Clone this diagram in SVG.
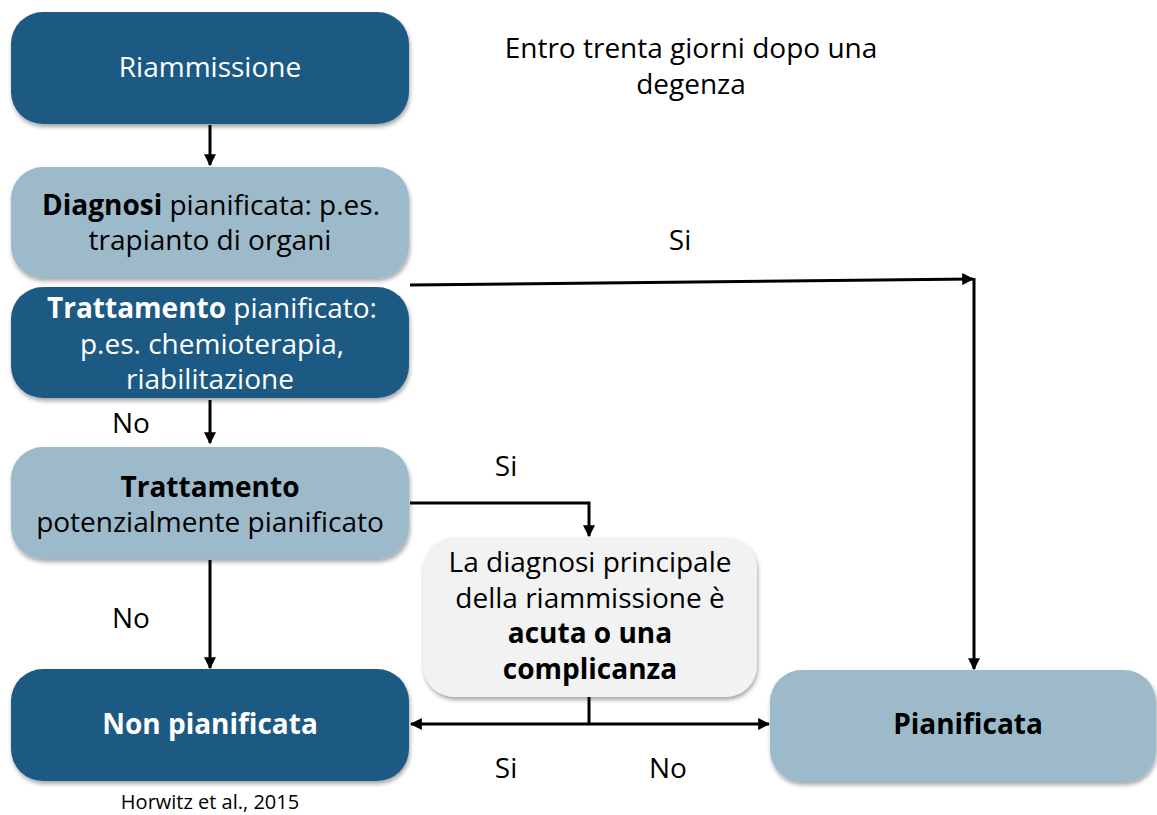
<svg xmlns="http://www.w3.org/2000/svg" width="1157" height="815" viewBox="0 0 1157 815">
<style>
text{font-family:"Open Sans","Noto Sans","DejaVu Sans",sans-serif;font-size:28px;text-anchor:middle}
.w{fill:#ffffff}
.k{fill:#000000}
.b{font-weight:bold}
.dark{fill:#1F5A84}
.light{fill:#9DBACB}
.grey{fill:#F2F2F2}
.ln{stroke:#000;stroke-width:3;fill:none}
</style>
<defs>
<filter id="sh" x="-10%" y="-10%" width="120%" height="130%">
<feDropShadow dx="1" dy="3" stdDeviation="2" flood-color="#000" flood-opacity="0.35"/>
</filter>
<marker id="ah" viewBox="0 0 10 10" refX="9" refY="5" markerWidth="4" markerHeight="4" orient="auto" markerUnits="strokeWidth">
<path d="M0,0 L10,5 L0,10 z" fill="#000"/>
</marker>
</defs>
<g id="n-riammissione">
<rect class="dark" x="11" y="12" width="398" height="112" rx="32" filter="url(#sh)"/>
<text class="w" x="210" y="77">Riammissione</text>
</g>
<g id="t-entro">
<text class="k" x="691" y="58">Entro trenta giorni dopo una</text>
<text class="k" x="691" y="94">degenza</text>
</g>
<g id="n-diagnosi">
<rect class="light" x="11" y="167" width="398" height="111" rx="32" filter="url(#sh)"/>
<text class="k" x="211" y="215"><tspan class="b">Diagnosi</tspan> pianificata: p.es.</text>
<text class="k" x="210" y="250">trapianto di organi</text>
</g>
<g id="n-trattamento-pianificato">
<rect class="dark" x="11" y="287" width="398" height="111" rx="32" filter="url(#sh)"/>
<text class="w" x="212" y="318"><tspan class="b">Trattamento</tspan> pianificato:</text>
<text class="w" x="212" y="354">p.es. chemioterapia,</text>
<text class="w" x="210" y="389">riabilitazione</text>
</g>
<g id="n-trattamento-potenziale">
<rect class="light" x="11" y="447" width="398" height="112" rx="32" filter="url(#sh)"/>
<text class="k b" x="210" y="497">Trattamento</text>
<text class="k" x="210" y="532">potenzialmente pianificato</text>
</g>
<g id="n-diagnosi-principale">
<rect class="grey" x="423" y="537" width="334" height="160" rx="32" filter="url(#sh)"/>
<text class="k" x="590" y="572">La diagnosi principale</text>
<text class="k" x="590" y="608">della riammissione è</text>
<text class="k b" x="590" y="643">acuta o una</text>
<text class="k b" x="590" y="679">complicanza</text>
</g>
<g id="n-non-pianificata">
<rect class="dark" x="11" y="669" width="398" height="112" rx="32" filter="url(#sh)"/>
<text class="w b" x="210" y="734">Non pianificata</text>
</g>
<g id="n-pianificata">
<rect class="light" x="770" y="670" width="386" height="112" rx="32" filter="url(#sh)"/>
<text class="k b" x="968" y="734">Pianificata</text>
</g>
<g id="connectors">
<line class="ln" x1="210" y1="125" x2="210" y2="165" marker-end="url(#ah)"/>
<line class="ln" x1="210" y1="400" x2="210" y2="443" marker-end="url(#ah)"/>
<line class="ln" x1="210" y1="560" x2="210" y2="668" marker-end="url(#ah)"/>
<line class="ln" x1="410" y1="285" x2="973" y2="279" marker-end="url(#ah)"/>
<line class="ln" x1="974" y1="278" x2="974" y2="669" marker-end="url(#ah)"/>
<polyline class="ln" points="410,503 589,503 589,536" marker-end="url(#ah)"/>
<line class="ln" x1="589" y1="697" x2="589" y2="724"/>
<line class="ln" x1="589" y1="724" x2="411" y2="724" marker-end="url(#ah)"/>
<line class="ln" x1="589" y1="724" x2="769" y2="724" marker-end="url(#ah)"/>
</g>
<g id="labels">
<text class="k" x="131" y="433">No</text>
<text class="k" x="131" y="628">No</text>
<text class="k" x="680" y="250">Si</text>
<text class="k" x="506" y="476">Si</text>
<text class="k" x="506" y="778">Si</text>
<text class="k" x="668" y="778">No</text>
<text class="k" x="210" y="809" style="font-size:20px">Horwitz et al., 2015</text>
</g>
</svg>
